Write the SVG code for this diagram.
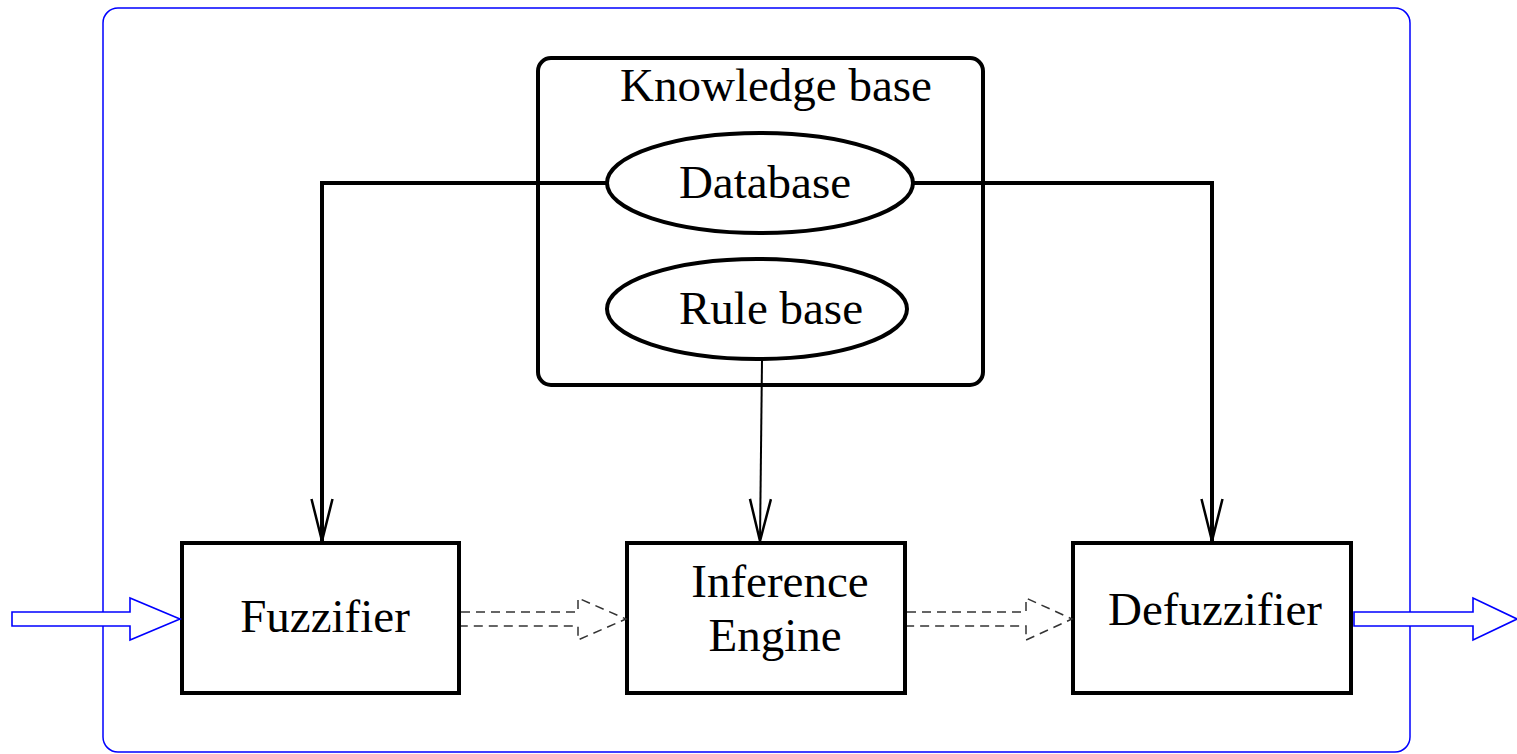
<svg xmlns="http://www.w3.org/2000/svg" width="1517" height="754" viewBox="0 0 1517 754">
<defs>
<style>
.box{fill:#fff;stroke:#000;stroke-width:4}
.thick{fill:none;stroke:#000;stroke-width:4}
.thin{fill:none;stroke:#000;stroke-width:2}
.blue{fill:#fff;stroke:#0000ff;stroke-width:1.6}
.dash{fill:none;stroke:#333;stroke-width:1.5;stroke-dasharray:9 6}
.t{font-family:"Liberation Serif","Times New Roman",serif;font-size:47px;fill:#000;text-anchor:middle}
</style>
<marker id="v" viewBox="0 0 44 24" refX="43" refY="12" markerWidth="44" markerHeight="24" markerUnits="userSpaceOnUse" orient="auto">
<path d="M1,1.5 L43,12 L1,22.5" fill="none" stroke="#000" stroke-width="2.5"/>
</marker>
</defs>
<rect x="103" y="8" width="1307" height="744" rx="15" fill="#fff" stroke="#0000ff" stroke-width="1.5"/>
<g id="knowledge-base">
<rect class="box" x="538" y="58" width="445" height="327" rx="13"/>
<text class="t" x="776" y="101">Knowledge base</text>
</g>
<g id="database">
<ellipse class="box" cx="760" cy="183" rx="153" ry="50"/>
<text class="t" x="765" y="198">Database</text>
</g>
<g id="rule-base">
<ellipse class="box" cx="757" cy="309" rx="150" ry="50"/>
<text class="t" x="771" y="324">Rule base</text>
</g>
<g id="fuzzifier">
<rect class="box" x="182" y="543" width="277" height="150"/>
<text class="t" x="325" y="632">Fuzzifier</text>
</g>
<g id="inference">
<rect class="box" x="627" y="543" width="278" height="150"/>
<text class="t" x="780" y="597">Inference</text>
<text class="t" x="775" y="651">Engine</text>
</g>
<g id="defuzzifier">
<rect class="box" x="1073" y="543" width="278" height="150"/>
<text class="t" x="1215" y="625">Defuzzifier</text>
</g>
<g id="connectors">
<polyline class="thick" points="607,183 322,183 322,541" marker-end="url(#v)"/>
<polyline class="thick" points="913,183 1212,183 1212,541" marker-end="url(#v)"/>
<line class="thin" x1="762" y1="360" x2="760" y2="541" marker-end="url(#v)"/>
<path class="blue" d="M12,612 L130,612 L130,598 L180,619 L130,640 L130,626 L12,626 Z"/>
<path class="blue" d="M1354,612 L1473,612 L1473,598 L1517,619 L1473,640 L1473,626 L1354,626 Z"/>
<path class="dash" d="M461,612 L578,612 L578,598 L626,619 L578,640 L578,626 L461,626"/>
<path class="dash" d="M907,612 L1026,612 L1026,598 L1072,619 L1026,640 L1026,626 L907,626"/>
</g>
</svg>
